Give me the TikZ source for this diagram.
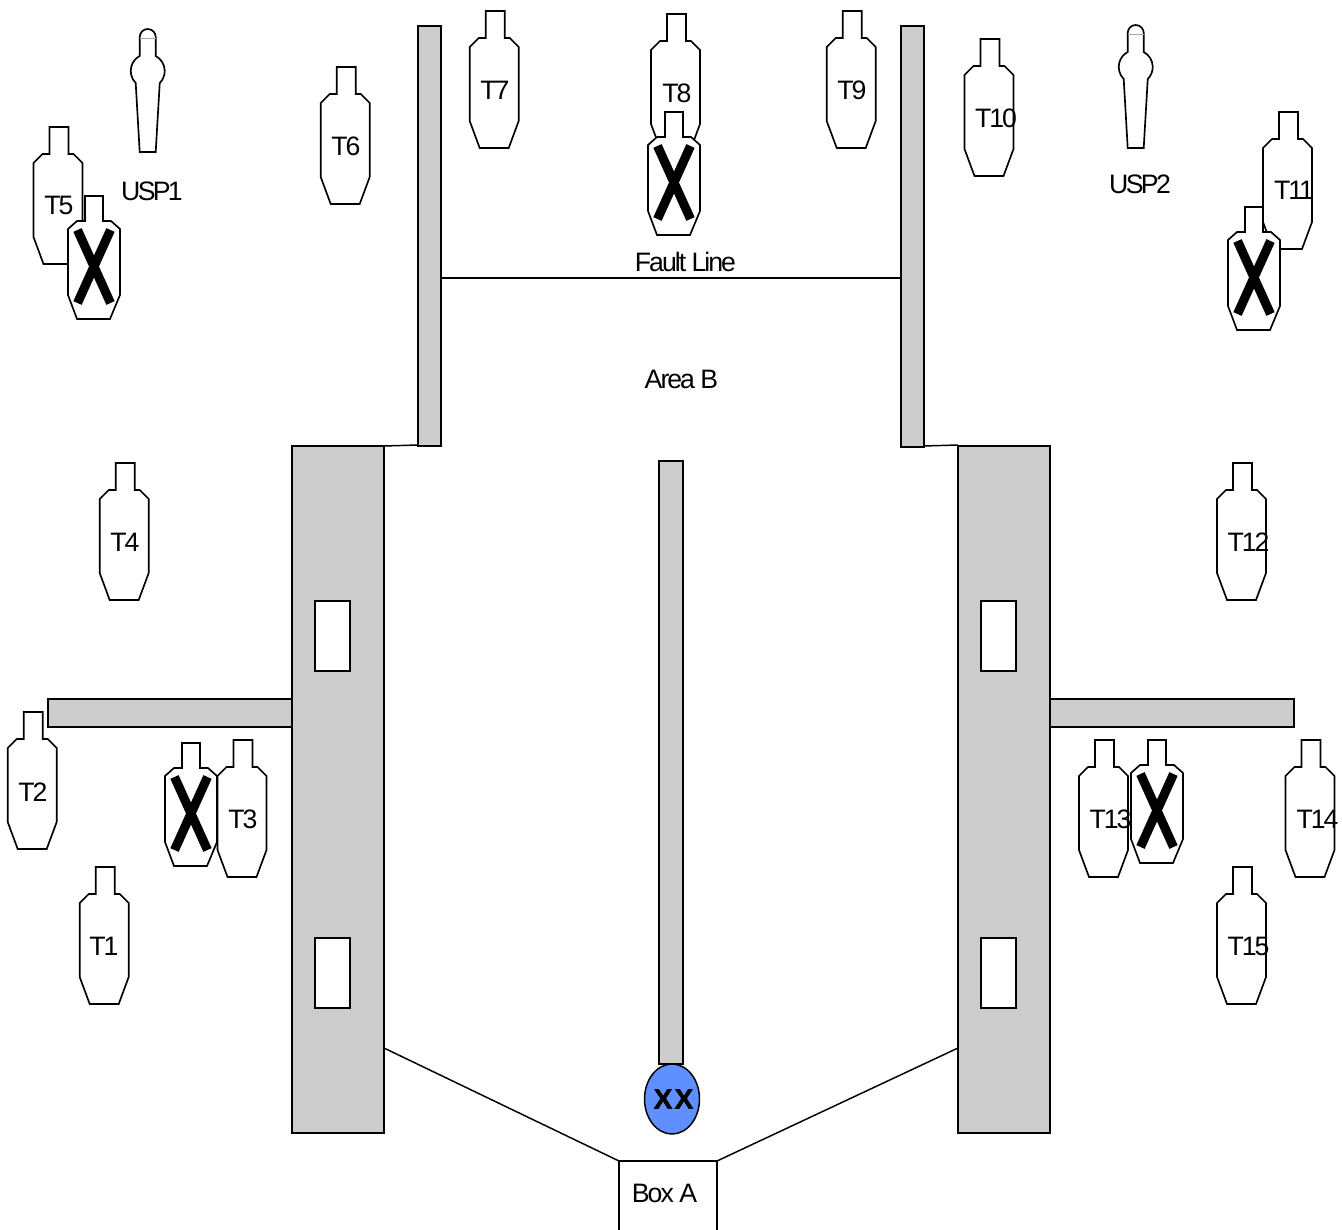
\documentclass[tikz,border=0pt]{standalone}
\usepackage{fontspec}
\setmainfont[LetterSpace=-7.5]{Liberation Sans}
\newfontfamily\tightfont[LetterSpace=-10]{Liberation Sans}
\newfontfamily\xxfont[LetterSpace=8,BoldFeatures={FakeBold=1.5}]{Liberation Sans}
\usetikzlibrary{shapes.geometric}
\definecolor{wallgray}{HTML}{CCCCCC}
\definecolor{markblue}{HTML}{6090FF}
\tikzset{
  x=0.75pt,y=0.75pt,
  every path/.style={line width=1.1pt,line join=miter},
  outline/.style={draw=black,fill=white,line width=1.25pt},
  lbl/.style={inner sep=0pt,font=\fontsize{20}{24}\selectfont},
  wall/.style={draw=black,fill=wallgray,rectangle,inner sep=0pt,outer sep=0pt},
  window/.style={draw=black,fill=white,rectangle,inner sep=0pt,outer sep=0pt,minimum width=26.25pt,minimum height=52.5pt},
  crossbar/.style={draw=black,line width=6.8pt,line cap=butt},
  target/.pic={
    \path[outline] (16,0) -- (35,0) -- (35,-27) -- (40,-27) -- (49,-36) -- (49,-110) -- (39,-137)
      -- (10,-137) -- (0,-110) -- (0,-36) -- (9,-27) -- (16,-27) -- cycle;
  },
  struck/.pic={
    \path[outline] (17,0) -- (35,0) -- (35,-25) -- (43,-25) -- (52,-33) -- (52,-99) -- (42,-123)
      -- (9,-123) -- (0,-99) -- (0,-33) -- (9,-25) -- (17,-25) -- cycle;
    \path[crossbar] (9.5,-34) -- (42.5,-107);
    \path[crossbar] (42.5,-34) -- (9.5,-107);
  },
  silhouette/.pic={
    \path[outline] (-8,-8) arc[start angle=180,end angle=0,radius=8] -- (8,-27)
      arc[start angle=62,end angle=-45,radius=17] -- (8,-123) -- (-8,-123) -- (-12,-54)
      arc[start angle=225,end angle=118,radius=17] -- cycle;
    \draw[line width=0.4pt,draw=black!35] (-8,-9) -- (8,-9);
  }
}
\begin{document}
\begin{tikzpicture}
\useasboundingbox (0,0) rectangle (1342,-1230);

% walls
\node[wall,minimum width=17.25pt,minimum height=315pt] (wallL) at (429.5,-236) {};
\node[wall,minimum width=17.25pt,minimum height=315.75pt] (wallR) at (912.5,-236.5) {};
\node[wall,minimum width=69pt,minimum height=515.25pt] (towerL) at (338,-789.5) {};
\node[wall,minimum width=69pt,minimum height=515.25pt] (towerR) at (1004,-789.5) {};
\node[wall,minimum width=18pt,minimum height=452.25pt] (centre) at (671,-762.5) {};
\node[wall,minimum width=183pt,minimum height=21pt] (armL) at (170,-713) {};
\node[wall,minimum width=183pt,minimum height=21pt] (armR) at (1172,-713) {};
\node[window] (winLa) at (332.5,-636) {};
\node[window] (winLb) at (332.5,-973) {};
\node[window] (winRa) at (998.5,-636) {};
\node[window] (winRb) at (998.5,-973) {};

% box and marker
\node[draw=black,fill=white,rectangle,inner sep=0pt,outer sep=0pt,minimum width=73.5pt,minimum height=54pt] (boxA) at (668,-1197) {};
\node[lbl] (boxAtext) at (664.5,-1193) {Box A};
\node[draw=black,fill=markblue,ellipse,inner sep=0pt,outer sep=0pt,minimum width=41.25pt,minimum height=52.5pt] (marker) at (672,-1099) {};
\node[inner sep=0pt,font=\fontsize{21}{24}\selectfont\xxfont\bfseries] (markertext) at (673.5,-1099) {XX};

% connectors
\coordinate (tlA) at (384,-1048);
\coordinate (trA) at (958,-1048);
\coordinate (flL) at (441,-278);
\coordinate (flR) at (901,-278);
\coordinate (tlB) at (384,-446);
\coordinate (wlB) at (418,-445);
\coordinate (trB) at (958,-445);
\coordinate (wrB) at (924,-446);
\draw (tlA) -- (boxA.north west);
\draw (trA) -- (boxA.north east);
\draw (flL) -- (flR);
\draw (tlB) -- (wlB);
\draw (wrB) -- (trB);

% targets
\pic at (33.5,-127) {target};
\pic at (320.7,-67) {target};
\pic at (469.7,-11) {target};
\pic at (651,-14) {target};
\pic at (826.7,-11) {target};
\pic at (964.5,-39) {target};
\pic at (1263,-112) {target};
\pic at (99.7,-463) {target};
\pic at (1217,-463) {target};
\pic at (7.7,-712) {target};
\pic at (165,-743) {struck};
\pic at (217.5,-740) {target};
\pic at (79.7,-867) {target};
\pic at (1079,-740) {target};
\pic at (1285.5,-740) {target};
\pic at (1217,-867) {target};
\pic at (68,-196) {struck};
\pic at (648,-112) {struck};
\pic at (1228,-207) {struck};
\pic at (1131,-740) {struck};

% silhouettes
\pic at (147.7,-29) {silhouette};
\pic at (1135.7,-25) {silhouette};

% labels
\node[lbl] (T1) at (104,-946) {T1};
\node[lbl] (T2) at (33,-792) {T2};
\node[lbl] (T3) at (243,-819) {T3};
\node[lbl] (T4) at (125,-542) {T4};
\node[lbl] (T5) at (59,-205) {T5};
\node[lbl] (T6) at (346,-146) {T6};
\node[lbl] (T7) at (495,-90) {T7};
\node[lbl] (T8) at (677,-93) {T8};
\node[lbl] (T9) at (852,-90) {T9};
\node[lbl] (T10) at (996,-118) {T10};
\node[lbl] (T11) at (1294,-190) {T11};
\node[lbl] (T12) at (1248.5,-542) {T12};
\node[lbl] (T13) at (1110.5,-819) {T13};
\node[lbl] (T14) at (1317.5,-819) {T14};
\node[lbl] (T15) at (1248.5,-946) {T15};
\node[lbl,font=\fontsize{20}{24}\selectfont\tightfont] (USP1) at (152,-191) {USP1};
\node[lbl,font=\fontsize{20}{24}\selectfont\tightfont] (USP2) at (1140,-184) {USP2};
\node[lbl] (fault) at (685.5,-262) {Fault Line};
\node[lbl] (areaB) at (681.5,-379) {Area B};
\end{tikzpicture}
\end{document}
